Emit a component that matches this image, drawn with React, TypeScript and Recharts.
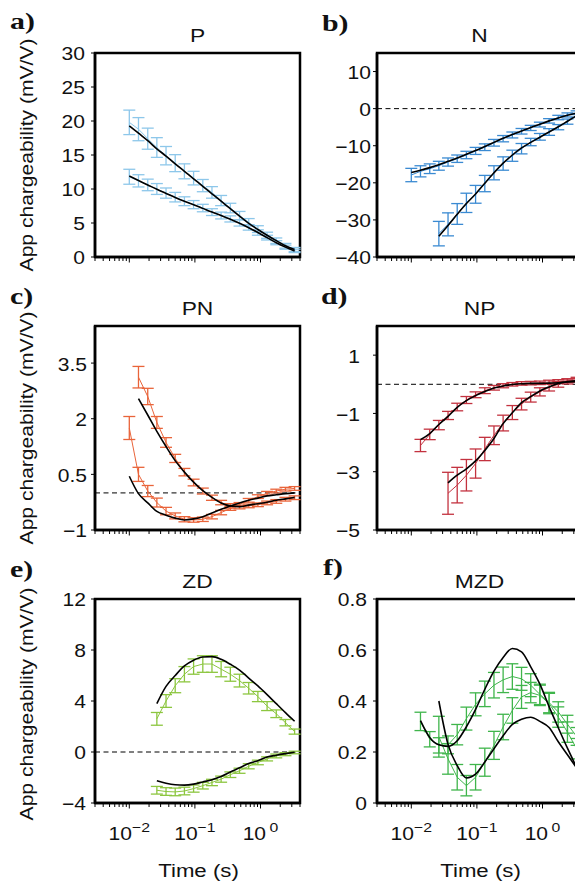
import React from "react";
import { ComposedChart, Line, XAxis, YAxis, ErrorBar, ReferenceLine, ReferenceArea } from "recharts";

// time gates (s)
const times = [0.01, 0.0138, 0.0191, 0.0263, 0.0363, 0.0501, 0.0692, 0.0955, 0.132, 0.182, 0.251, 0.347, 0.479, 0.661, 0.912, 1.26, 1.74, 2.4, 3.31];
const xTicks = [0.003, 0.004, 0.005, 0.006, 0.007, 0.008, 0.009, 0.01, 0.02, 0.03, 0.04, 0.05, 0.06, 0.07, 0.08, 0.09, 0.1, 0.2, 0.3, 0.4, 0.5, 0.6, 0.7, 0.8, 0.9, 1, 2, 3, 4];
const xMajor = [0.01, 0.1, 1];
const xMajorExp = ["\u22122", "\u22121", "0"];

// a) P
const pHi = [19.8, 18.8, 17.4, 16.1, 14.9, 13.8, 12.6, 11.6, 10.5, 9.5, 8.3, 7.2, 6.1, 5.1, 4.1, 3.2, 2.4, 1.65, 1.1];
const pHiErr = [1.8, 1.7, 1.55, 1.45, 1.35, 1.25, 1.1, 1.0, 0.9, 0.85, 0.75, 0.7, 0.6, 0.55, 0.5, 0.45, 0.4, 0.35, 0.3];
const pHiFit = [19.3, 18.2, 17.1, 15.9, 14.85, 13.7, 12.6, 11.5, 10.4, 9.3, 8.2, 7.1, 6.0, 4.95, 4.05, 3.2, 2.4, 1.65, 1.1];
const pLo = [11.8, 11.2, 10.6, 10.0, 9.4, 8.8, 8.2, 7.7, 7.2, 6.6, 6.1, 5.6, 5.0, 4.35, 3.6, 2.85, 2.1, 1.45, 0.9];
const pLoErr = [1.1, 0.9, 0.85, 0.8, 0.75, 0.7, 0.65, 0.6, 0.55, 0.5, 0.5, 0.45, 0.45, 0.4, 0.4, 0.35, 0.3, 0.3, 0.25];
const pLoFit = [11.9, 11.25, 10.6, 9.95, 9.35, 8.75, 8.2, 7.7, 7.15, 6.6, 6.1, 5.55, 4.95, 4.3, 3.6, 2.85, 2.1, 1.45, 0.9];

// b) N
const nLo = [-17.9, -16.9, -16.2, -15.4, -14.4, -13.5, -12.5, -11.4, -10.4, -9.2, -8.1, -7.1, -6.1, -5.2, -4.3, -3.3, -2.4, -1.7, -1.1];
const nLoErr = [1.8, 1.5, 1.3, 1.2, 1.1, 1.0, 1.0, 0.95, 0.9, 0.9, 0.85, 0.8, 0.75, 0.7, 0.65, 0.6, 0.6, 0.55, 0.5];
const nLoFit = [-17.2, -16.6, -15.9, -15.1, -14.2, -13.3, -12.3, -11.3, -10.2, -9.1, -8.0, -7.0, -6.0, -5.1, -4.2, -3.3, -2.5, -1.8, -1.2];
const nHi = [-33.7, -31.2, -28.4, -25.4, -23.1, -20.2, -17.3, -14.8, -12.7, -10.8, -9.0, -7.6, -6.3, -5.0, -3.5, -1.9];
const nHiErr = [3.3, 3.1, 2.8, 2.6, 2.4, 2.2, 1.9, 1.8, 1.5, 1.4, 1.0, 0.9, 0.9, 0.7, 0.7, 0.5];
const nHiFit = [-34.4, -31.5, -28.5, -25.6, -23.0, -20.1, -17.3, -14.7, -12.5, -10.6, -9.1, -7.7, -6.3, -4.9, -3.4, -1.9];

// c) PN
const pnA = [1.75, 0.5, 0.05, -0.26, -0.49, -0.62, -0.71, -0.73, -0.71, -0.64, -0.53, -0.42, -0.31, -0.2, -0.1, -0.01, 0.05, 0.1, 0.12];
const pnAErr = [0.31, 0.19, 0.15, 0.12, 0.1, 0.08, 0.07, 0.06, 0.06, 0.06, 0.06, 0.05, 0.05, 0.05, 0.05, 0.05, 0.05, 0.05, 0.05];
const pnAFit = [0.45, -0.02, -0.27, -0.5, -0.6, -0.68, -0.73, -0.7, -0.64, -0.54, -0.44, -0.35, -0.27, -0.2, -0.14, -0.08, -0.05, -0.02, 0.0];
const pnB = [3.12, 2.6, 1.9, 1.36, 0.93, 0.56, 0.28, 0.05, -0.13, -0.26, -0.35, -0.38, -0.35, -0.32, -0.27, -0.23, -0.17, -0.13];
const pnBErr = [0.29, 0.22, 0.16, 0.13, 0.11, 0.1, 0.09, 0.08, 0.07, 0.06, 0.06, 0.05, 0.05, 0.05, 0.05, 0.05, 0.05, 0.05];
const pnBFit = [2.54, 2.1, 1.66, 1.25, 0.87, 0.56, 0.29, 0.06, -0.12, -0.27, -0.35, -0.37, -0.33, -0.29, -0.25, -0.2, -0.16, -0.12];

// d) NP
const npA = [-2.1, -1.72, -1.4, -1.07, -0.78, -0.54, -0.36, -0.22, -0.12, -0.05, 0.0, 0.03, 0.04, 0.05, 0.08, 0.1, 0.12, 0.14];
const npAErr = [0.21, 0.18, 0.16, 0.14, 0.13, 0.12, 0.1, 0.1, 0.08, 0.07, 0.06, 0.06, 0.06, 0.06, 0.06, 0.06, 0.06, 0.06];
const npAFit = [-1.9, -1.69, -1.38, -1.1, -0.79, -0.56, -0.39, -0.25, -0.13, -0.06, -0.01, 0.02, 0.03, 0.03, 0.04, 0.05, 0.08, 0.09];
const npB = [-3.74, -3.46, -3.12, -2.72, -2.22, -1.75, -1.33, -0.97, -0.68, -0.44, -0.26, -0.11, 0.0, 0.1, 0.16];
const npBErr = [0.72, 0.61, 0.54, 0.5, 0.4, 0.32, 0.27, 0.24, 0.2, 0.17, 0.14, 0.12, 0.1, 0.09, 0.08];
const npBFit = [-3.38, -3.12, -2.9, -2.63, -2.27, -1.86, -1.35, -0.98, -0.63, -0.42, -0.23, -0.09, 0.03, 0.09, 0.12];

// e) ZD
const zdA = [2.6, 4.0, 5.2, 6.1, 6.7, 6.9, 6.9, 6.5, 6.1, 5.6, 5.0, 4.35, 3.6, 3.0, 2.3, 1.6];
const zdAErr = [0.5, 0.5, 0.55, 0.6, 0.6, 0.65, 0.65, 0.6, 0.55, 0.5, 0.45, 0.4, 0.35, 0.3, 0.25, 0.2];
const zdAFit = [3.8, 5.15, 6.0, 6.75, 7.2, 7.45, 7.48, 7.27, 6.88, 6.43, 5.8, 5.18, 4.5, 3.79, 3.09, 2.41];
const zdB = [-3.0, -3.1, -3.13, -3.06, -2.87, -2.64, -2.39, -2.13, -1.78, -1.47, -1.12, -0.82, -0.54, -0.31, -0.17, -0.04];
const zdBErr = [0.3, 0.3, 0.3, 0.3, 0.28, 0.26, 0.25, 0.24, 0.22, 0.2, 0.2, 0.18, 0.16, 0.15, 0.12, 0.1];
const zdBFit = [-2.25, -2.45, -2.57, -2.6, -2.52, -2.35, -2.17, -1.92, -1.57, -1.24, -0.9, -0.68, -0.39, -0.25, -0.13, -0.02];

// f) MZD
const mzdA = [0.32, 0.25, 0.226, 0.228, 0.268, 0.331, 0.387, 0.428, 0.462, 0.483, 0.496, 0.487, 0.462, 0.426, 0.394, 0.357, 0.309, 0.261];
const mzdAErr = [0.036, 0.03, 0.03, 0.035, 0.04, 0.045, 0.045, 0.05, 0.05, 0.05, 0.05, 0.045, 0.045, 0.04, 0.04, 0.04, 0.035, 0.035];
const mzdAFit = [0.323, 0.257, 0.228, 0.222, 0.244, 0.299, 0.367, 0.446, 0.517, 0.571, 0.606, 0.593, 0.534, 0.466, 0.378, 0.295, 0.215, 0.14];
const mzdB = [0.26, 0.173, 0.101, 0.068, 0.101, 0.16, 0.226, 0.298, 0.363, 0.416, 0.433, 0.422, 0.39, 0.337, 0.278, 0.213];
const mzdBErr = [0.08, 0.06, 0.05, 0.04, 0.05, 0.055, 0.055, 0.05, 0.05, 0.045, 0.04, 0.04, 0.04, 0.04, 0.04, 0.04];
const mzdBFit = [0.4, 0.23, 0.147, 0.098, 0.113, 0.161, 0.213, 0.264, 0.308, 0.328, 0.336, 0.32, 0.296, 0.24, 0.189, 0.138];

const titles = ["P", "N", "PN", "NP", "ZD", "MZD"];
const letters = ["a)", "b)", "c)", "d)", "e)", "f)"];
const yLabel = "App chargeability (mV/V)";
const xLabel = "Time (s)";

const SANS = '"Liberation Sans", Arial, Helvetica, sans-serif';
const SERIF = '"Liberation Serif", "Times New Roman", serif';
const SX = 1.17;

const mk = (start: number, vals: number[], errs?: number[]) =>
  vals.map((v, i) => ({ t: times[start + i], v, e: errs ? errs[i] : 0 }));

type Series = { start: number; vals: number[]; errs: number[]; fit: number[] };
type PanelCfg = {
  bx: number; by: number; color: string; domain: [number, number]; yTicks: number[];
  gap: number; zero: boolean; xLabels: boolean; series: Series[];
};

const panels: PanelCfg[] = [
  { bx: 95, by: 53, color: "#8dc7ea", domain: [0, 30], yTicks: [0, 5, 10, 15, 20, 25, 30], gap: 10, zero: false, xLabels: false,
    series: [{ start: 0, vals: pHi, errs: pHiErr, fit: pHiFit }, { start: 0, vals: pLo, errs: pLoErr, fit: pLoFit }] },
  { bx: 377, by: 53, color: "#3a8ad2", domain: [-40, 15], yTicks: [-40, -30, -20, -10, 0, 10], gap: 6, zero: true, xLabels: false,
    series: [{ start: 0, vals: nLo, errs: nLoErr, fit: nLoFit }, { start: 3, vals: nHi, errs: nHiErr, fit: nHiFit }] },
  { bx: 95, by: 326, color: "#e9643a", domain: [-1, 4.5], yTicks: [-1, 0.5, 2, 3.5], gap: 8, zero: true, xLabels: false,
    series: [{ start: 0, vals: pnA, errs: pnAErr, fit: pnAFit }, { start: 1, vals: pnB, errs: pnBErr, fit: pnBFit }] },
  { bx: 377, by: 326, color: "#c3323f", domain: [-5, 2], yTicks: [-5, -3, -1, 1], gap: 17, zero: true, xLabels: false,
    series: [{ start: 1, vals: npA, errs: npAErr, fit: npAFit }, { start: 4, vals: npB, errs: npBErr, fit: npBFit }] },
  { bx: 95, by: 599, color: "#8cc63f", domain: [-4, 12], yTicks: [-4, 0, 4, 8, 12], gap: 9, zero: true, xLabels: true,
    series: [{ start: 3, vals: zdA, errs: zdAErr, fit: zdAFit }, { start: 3, vals: zdB, errs: zdBErr, fit: zdBFit }] },
  { bx: 377, by: 599, color: "#3fb54b", domain: [0, 0.8], yTicks: [0, 0.2, 0.4, 0.6, 0.8], gap: 10, zero: false, xLabels: true,
    series: [{ start: 1, vals: mzdA, errs: mzdAErr, fit: mzdAFit }, { start: 3, vals: mzdB, errs: mzdBErr, fit: mzdBFit }] },
];

const BOX_W = 205;
const BOX_H = 204;
const ML = 90, MT = 10, MR = 10, MB = 60;

const fmt = (v: number) => (v < 0 ? "\u2212" + String(Math.abs(v)) : String(v));

const XTick = (props: any) => {
  const { x, y, payload, showLabel } = props;
  const v = payload.value;
  const mi = xMajor.findIndex((m) => Math.abs(m - v) < 1e-9);
  const major = mi >= 0;
  return (
    <g>
      <line x1={x} x2={x} y1={y} y2={y + (major ? 5.5 : 4)} stroke="#000" strokeWidth={1} />
      {showLabel && major && (
        <text transform={`translate(${x},${y + 37}) scale(${SX},1)`} textAnchor="middle" fontSize={18} fontFamily={SANS} fill="#111">
          10
          <tspan dy={-8.5} dx={mi === 2 ? 3 : 0} fontSize={13.5}>{xMajorExp[mi]}</tspan>
        </text>
      )}
    </g>
  );
};

const YTick = (props: any) => {
  const { x, y, payload, gap } = props;
  return (
    <g>
      <line x1={x - 4} x2={x} y1={y} y2={y} stroke="#000" strokeWidth={1} />
      <text transform={`translate(${x - gap},${y + 1}) scale(${SX},1)`} textAnchor="end" dy="0.36em" fontSize={18} fontFamily={SANS} fill="#111">
        {fmt(payload.value)}
      </text>
    </g>
  );
};

const Panel = ({ cfg }: { cfg: PanelCfg }) => {
  const W = ML + BOX_W + MR;
  const H = MT + BOX_H + MB;
  return (
    <div style={{ position: "absolute", left: cfg.bx - ML, top: cfg.by - MT, width: W, height: H }}>
      <ComposedChart width={W} height={H} margin={{ top: MT, right: MR, bottom: 0, left: 0 }}>
        <XAxis
          dataKey="t" type="number" scale="log" domain={[0.003, 4]} ticks={xTicks} interval={0}
          allowDataOverflow height={MB} tickSize={0} tickMargin={0} tickLine={false}
          axisLine={{ stroke: "#000", strokeWidth: 2.5 }}
          tick={(p: any) => <XTick {...p} showLabel={cfg.xLabels} />}
        />
        <YAxis
          type="number" domain={cfg.domain} ticks={cfg.yTicks} interval={0} width={ML}
          allowDataOverflow tickSize={0} tickMargin={0} tickLine={false}
          axisLine={{ stroke: "#000", strokeWidth: 2.5 }}
          tick={(p: any) => <YTick {...p} gap={cfg.gap} />}
        />
        {cfg.zero && <ReferenceLine y={0} stroke="#000" strokeWidth={1} strokeDasharray="5 3.5" ifOverflow="visible" />}
        {cfg.series.map((s, i) => (
          <Line
            key={"d" + i} data={mk(s.start, s.vals, s.errs)} dataKey="v" type="linear"
            stroke={cfg.color} strokeWidth={1} dot={false} activeDot={false} isAnimationActive={false}
          >
            <ErrorBar dataKey="e" width={6} stroke={cfg.color} strokeWidth={1.3} direction="y" />
          </Line>
        ))}
        {cfg.series.map((s, i) => (
          <Line
            key={"f" + i} data={mk(s.start, s.fit)} dataKey="v" type="monotone"
            stroke="#000" strokeWidth={1.6} dot={false} activeDot={false} isAnimationActive={false}
          />
        ))}
        <ReferenceArea
          x1={0.003} x2={4} y1={cfg.domain[0]} y2={cfg.domain[1]}
          fill="none" fillOpacity={0} stroke="#000" strokeWidth={2.5} ifOverflow="visible"
        />
      </ComposedChart>
    </div>
  );
};

const SText = ({ x, y, children, size = 18, sx = SX, rotate = 0, family = SANS, weight = "normal", anchor = "middle" }: any) => (
  <text
    transform={`translate(${x},${y}) rotate(${rotate}) scale(${sx},1)`}
    textAnchor={anchor} fontSize={size} fontFamily={family} fontWeight={weight} fill="#111"
  >
    {children}
  </text>
);

export default function App() {
  const letterPos = [[10, 29], [322, 31], [10, 304], [321, 304], [10, 577], [323, 575]];
  return (
    <div style={{ position: "absolute", left: 0, top: 0, width: 575, height: 884, overflow: "hidden", background: "#fff" }}>
      {panels.map((p, i) => (
        <Panel key={i} cfg={p} />
      ))}
      <svg width={575} height={884} style={{ position: "absolute", left: 0, top: 0, pointerEvents: "none" }}>
        {panels.map((p, i) => (
          <SText key={"t" + i} x={p.bx + BOX_W / 2} y={p.by - 11.5} size={19} sx={1.2}>{titles[i]}</SText>
        ))}
        {letters.map((l, i) => (
          <SText key={"l" + i} x={letterPos[i][0]} y={letterPos[i][1]} size={23} sx={1.3} family={SERIF} weight="bold" anchor="start">{l}</SText>
        ))}
        {[0, 2, 4].map((i) => (
          <SText key={"y" + i} x={33} y={panels[i].by + BOX_H / 2 + (i === 4 ? 3 : 0)} rotate={-90}>{yLabel}</SText>
        ))}
        {[4, 5].map((i) => (
          <SText key={"x" + i} x={panels[i].bx + BOX_W / 2 + 1} y={877} size={19}>{xLabel}</SText>
        ))}
      </svg>
    </div>
  );
}
